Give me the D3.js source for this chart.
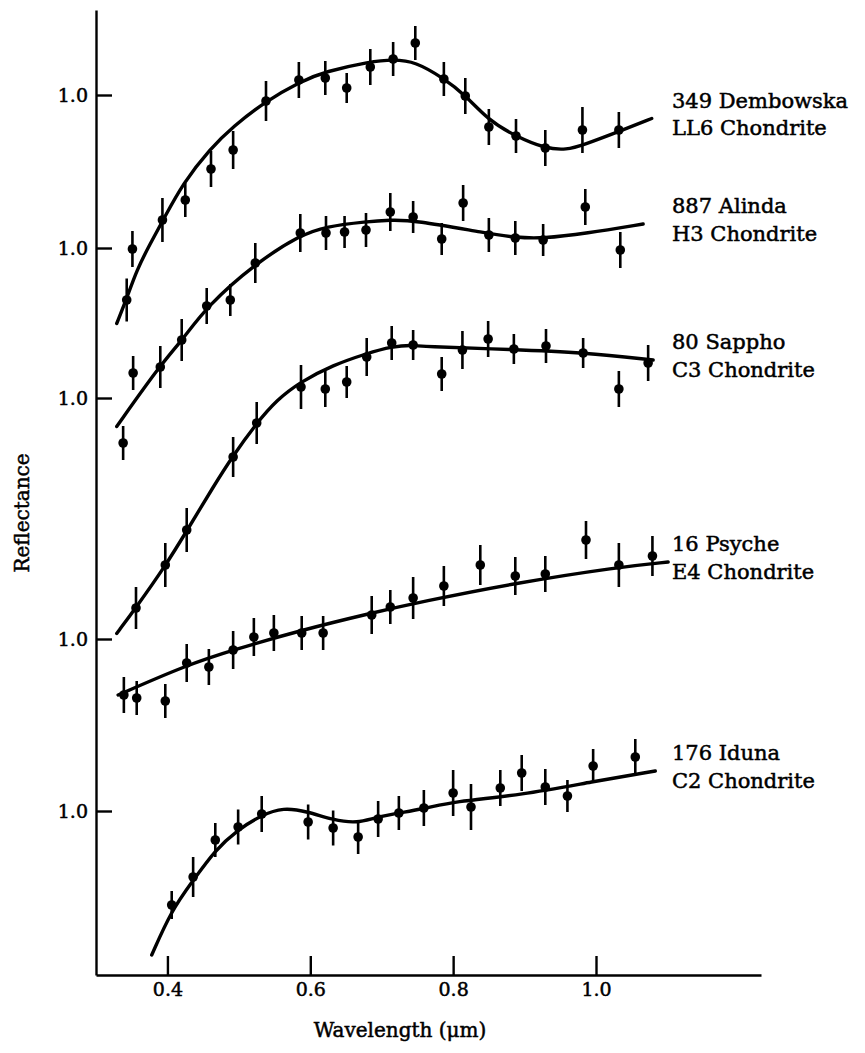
<!DOCTYPE html>
<html>
<head>
<meta charset="utf-8">
<script src="https://cdn.jsdelivr.net/npm/d3@7"></script>
<style>
  body { margin: 0; background: #fff; }
  svg { display: block; }
  text { font-family: "DejaVu Serif", "Liberation Serif", serif; fill: #000; stroke: #000; stroke-width: 0.5px; }
</style>
</head>
<body>
<script>
// spectra are stacked; each one has its own "1.0" level (offset added to reflectance)
const asteroids = ["349 Dembowska", "887 Alinda", "80 Sappho", "16 Psyche", "176 Iduna"];
const meteorites = ["LL6 Chondrite", "H3 Chondrite", "C3 Chondrite", "E4 Chondrite", "C2 Chondrite"];
const offsets = [0.76, 0.454, 0.154, -0.328, -0.672];
const wavelengthTicks = [0.4, 0.6, 0.8, 1.0];

// 349 Dembowska
const dembowskaWave = [0.343, 0.351, 0.393, 0.425, 0.461, 0.492, 0.538, 0.584, 0.621, 0.651, 0.684, 0.716, 0.747, 0.787, 0.817, 0.850, 0.888, 0.929, 0.981, 1.032];
const dembowskaRefl = [0.590, 0.692, 0.750, 0.790, 0.852, 0.890, 0.988, 1.030, 1.034, 1.014, 1.056, 1.072, 1.104, 1.032, 0.998, 0.936, 0.918, 0.894, 0.930, 0.930];
const dembowskaErr  = [0.043, 0.036, 0.044, 0.034, 0.036, 0.038, 0.040, 0.036, 0.034, 0.030, 0.036, 0.034, 0.034, 0.034, 0.036, 0.036, 0.034, 0.036, 0.046, 0.036];
const dembowskaFitWave = [0.329, 0.343, 0.357, 0.376, 0.394, 0.422, 0.460, 0.492, 0.537, 0.586, 0.621, 0.684, 0.716, 0.747, 0.787, 0.817, 0.849, 0.888, 0.929, 0.959, 0.982, 1.032, 1.078];
const dembowskaFitRefl = [0.543, 0.593, 0.650, 0.703, 0.750, 0.824, 0.893, 0.937, 0.987, 1.027, 1.047, 1.067, 1.071, 1.067, 1.033, 1.000, 0.950, 0.917, 0.893, 0.890, 0.900, 0.927, 0.953];

// 887 Alinda
const alindaWave = [0.338, 0.352, 0.390, 0.420, 0.455, 0.488, 0.523, 0.586, 0.622, 0.648, 0.678, 0.712, 0.744, 0.784, 0.814, 0.850, 0.887, 0.926, 0.985, 1.034];
const alindaRefl = [0.610, 0.750, 0.762, 0.816, 0.884, 0.896, 0.970, 1.030, 1.030, 1.032, 1.036, 1.072, 1.062, 1.018, 1.090, 1.026, 1.020, 1.016, 1.082, 0.996];
const alindaErr  = [0.034, 0.034, 0.042, 0.042, 0.036, 0.032, 0.040, 0.038, 0.034, 0.032, 0.034, 0.038, 0.032, 0.032, 0.036, 0.034, 0.034, 0.032, 0.036, 0.036];
const alindaFitWave = [0.329, 0.390, 0.421, 0.455, 0.523, 0.586, 0.622, 0.679, 0.712, 0.744, 0.849, 0.887, 0.926, 0.985, 1.066];
const alindaFitRefl = [0.643, 0.766, 0.816, 0.883, 0.969, 1.026, 1.043, 1.053, 1.056, 1.056, 1.029, 1.021, 1.019, 1.029, 1.048];

// 80 Sappho
const sapphoWave = [0.356, 0.397, 0.427, 0.492, 0.525, 0.587, 0.621, 0.651, 0.679, 0.714, 0.744, 0.784, 0.813, 0.849, 0.885, 0.930, 0.982, 1.032, 1.073];
const sapphoRefl = [0.580, 0.666, 0.736, 0.882, 0.950, 1.022, 1.018, 1.032, 1.082, 1.110, 1.106, 1.048, 1.096, 1.118, 1.098, 1.104, 1.090, 1.018, 1.070];
const sapphoErr  = [0.042, 0.044, 0.044, 0.040, 0.042, 0.044, 0.036, 0.032, 0.038, 0.034, 0.030, 0.034, 0.038, 0.036, 0.030, 0.034, 0.030, 0.036, 0.036];
const sapphoFitWave = [0.329, 0.356, 0.397, 0.427, 0.464, 0.491, 0.525, 0.553, 0.586, 0.632, 0.679, 0.714, 0.744, 0.754, 0.884, 0.982, 1.080];
const sapphoFitRefl = [0.529, 0.581, 0.664, 0.734, 0.822, 0.883, 0.950, 0.996, 1.032, 1.066, 1.089, 1.103, 1.106, 1.103, 1.097, 1.091, 1.076];

// 16 Psyche
const psycheWave = [0.339, 0.357, 0.397, 0.427, 0.458, 0.492, 0.521, 0.549, 0.588, 0.618, 0.686, 0.712, 0.744, 0.787, 0.838, 0.887, 0.929, 0.986, 1.032, 1.079];
const psycheRefl = [0.888, 0.882, 0.876, 0.952, 0.944, 0.978, 1.004, 1.012, 1.012, 1.012, 1.048, 1.064, 1.082, 1.106, 1.148, 1.126, 1.130, 1.198, 1.148, 1.166];
const psycheErr  = [0.036, 0.034, 0.034, 0.038, 0.036, 0.038, 0.038, 0.036, 0.034, 0.034, 0.038, 0.034, 0.042, 0.040, 0.040, 0.038, 0.036, 0.038, 0.044, 0.040];
const psycheFitWave = [0.331, 0.427, 0.492, 0.588, 0.686, 0.754, 0.887, 1.032, 1.101];
const psycheFitRefl = [0.888, 0.948, 0.978, 1.018, 1.052, 1.074, 1.112, 1.144, 1.154];

// 176 Iduna
const idunaWave = [0.406, 0.436, 0.467, 0.499, 0.532, 0.597, 0.632, 0.667, 0.695, 0.724, 0.759, 0.800, 0.825, 0.866, 0.896, 0.929, 0.960, 0.996, 1.055];
const idunaRefl = [0.812, 0.868, 0.942, 0.968, 0.994, 0.978, 0.966, 0.948, 0.984, 0.996, 1.006, 1.036, 1.008, 1.046, 1.076, 1.048, 1.030, 1.090, 1.108];
const idunaErr  = [0.028, 0.040, 0.034, 0.035, 0.036, 0.035, 0.035, 0.034, 0.036, 0.034, 0.036, 0.046, 0.046, 0.036, 0.036, 0.036, 0.032, 0.034, 0.036];
const idunaFitWave = [0.378, 0.406, 0.435, 0.467, 0.498, 0.532, 0.562, 0.596, 0.632, 0.666, 0.694, 0.759, 0.800, 0.896, 0.996, 1.083];
const idunaFitRefl = [0.712, 0.802, 0.859, 0.922, 0.962, 0.992, 1.007, 0.999, 0.982, 0.975, 0.989, 1.004, 1.019, 1.032, 1.059, 1.080];

const spectra = [
    { wave: dembowskaWave, refl: dembowskaRefl, err: dembowskaErr, fitWave: dembowskaFitWave, fitRefl: dembowskaFitRefl },
    { wave: alindaWave, refl: alindaRefl, err: alindaErr, fitWave: alindaFitWave, fitRefl: alindaFitRefl },
    { wave: sapphoWave, refl: sapphoRefl, err: sapphoErr, fitWave: sapphoFitWave, fitRefl: sapphoFitRefl },
    { wave: psycheWave, refl: psycheRefl, err: psycheErr, fitWave: psycheFitWave, fitRefl: psycheFitRefl },
    { wave: idunaWave, refl: idunaRefl, err: idunaErr, fitWave: idunaFitWave, fitRefl: idunaFitRefl }
];

const width = 865, height = 1053;

const svg = d3.select("body").append("svg")
    .attr("width", width)
    .attr("height", height);

svg.append("rect").attr("width", width).attr("height", height).attr("fill", "#fff");

var x = d3.scaleLinear()
    .domain([0.3, 1.231])
    .range([96, 761]);

var y = d3.scaleLinear()
    .domain([0, 1.93])
    .range([975, 10]);

// Axes - ticks point inward like the printed figure
const xAxis = svg.append("g")
    .attr("transform", "translate(0," + y(0) + ")")
    .call(d3.axisBottom(x)
        .tickValues(wavelengthTicks)
        .tickFormat(d3.format(".1f"))
        .tickSizeInner(-19)
        .tickSizeOuter(0)
        .tickPadding(8));

const yAxis = svg.append("g")
    .attr("transform", "translate(" + x(0.3) + ",0)")
    .call(d3.axisLeft(y)
        .tickValues(offsets.map(o => o + 1))
        .tickFormat(() => "1.0")
        .tickSizeInner(-16)
        .tickSizeOuter(0)
        .tickPadding(8));

[xAxis, yAxis].forEach(g => {
    g.attr("font-family", null).attr("font-size", null);
    g.select(".domain").attr("stroke", "#000").attr("stroke-width", 2.4);
    g.selectAll(".tick line").attr("stroke", "#000").attr("stroke-width", 2.4);
    g.selectAll(".tick text").style("font-size", "19px");
});

svg.append("text")
    .attr("x", 400)
    .attr("y", 1037)
    .attr("text-anchor", "middle")
    .style("font-size", "20px")
    .text("Wavelength (\u03bcm)");

svg.append("text")
    .attr("transform", "translate(29,513)rotate(-90)")
    .attr("text-anchor", "middle")
    .style("font-size", "20px")
    .text("Reflectance");

const line = d3.line().curve(d3.curveBasis);

spectra.forEach((s, i) => {
    const off = offsets[i];
    const g = svg.append("g");

    // fitted curve
    g.append("path")
        .datum(s.fitWave.map((w, j) => [x(w), y(off + s.fitRefl[j])]))
        .attr("d", line)
        .attr("fill", "none")
        .attr("stroke", "#000")
        .attr("stroke-width", 3.4)
        .attr("stroke-linecap", "round");

    const pts = s.wave.map((w, j) => ({ w: w, r: s.refl[j], e: s.err[j] }));

    // error bars
    g.selectAll(".bar")
        .data(pts)
        .enter()
        .append("line")
        .attr("x1", d => x(d.w))
        .attr("x2", d => x(d.w))
        .attr("y1", d => y(off + d.r - d.e))
        .attr("y2", d => y(off + d.r + d.e))
        .attr("stroke", "#000")
        .attr("stroke-width", 2.6);

    // points
    g.selectAll(".pt")
        .data(pts)
        .enter()
        .append("circle")
        .attr("cx", d => x(d.w))
        .attr("cy", d => y(off + d.r))
        .attr("r", 4.8)
        .attr("fill", "#000");

    // label next to the end of the curve
    const yEnd = y(off + s.fitRefl[s.fitRefl.length - 1]);
    const label = g.append("text")
        .attr("x", 672)
        .attr("y", yEnd - 18)
        .style("font-size", "21px");
    label.append("tspan").attr("x", 672).attr("dy", "0.35em").text(asteroids[i]);
    label.append("tspan").attr("x", 672).attr("dy", "1.3em").text(meteorites[i]);
});
</script>
</body>
</html>
